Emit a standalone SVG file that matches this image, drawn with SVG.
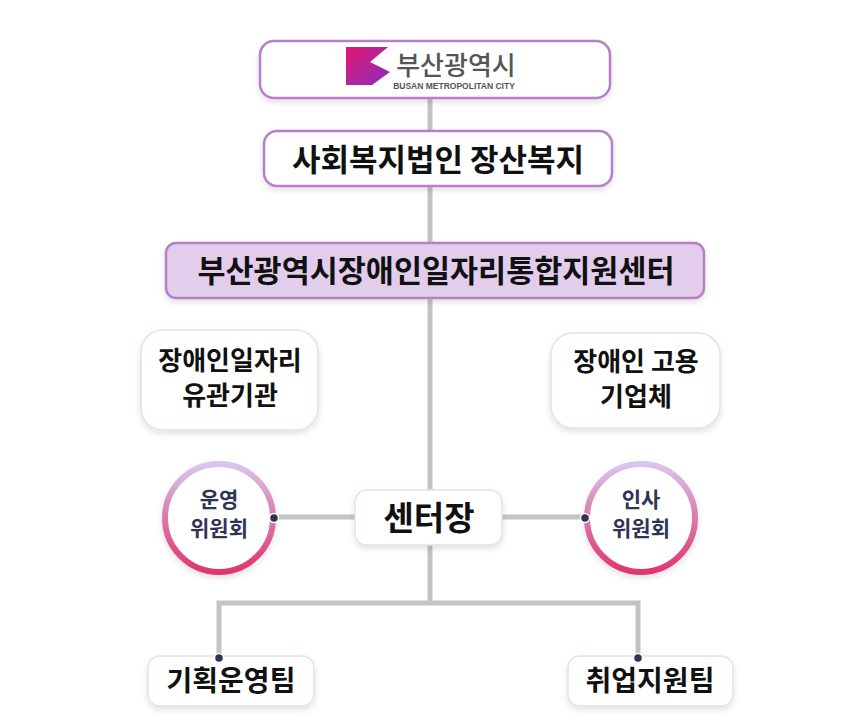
<svg xmlns="http://www.w3.org/2000/svg" width="860" height="726" viewBox="0 0 860 726">
<defs>
<linearGradient id="ring" x1="0" y1="0" x2="0" y2="1"><stop offset="0" stop-color="#d9c6ef"/><stop offset="0.5" stop-color="#d97aa9"/><stop offset="1" stop-color="#e0356f"/></linearGradient>
<linearGradient id="logo" x1="0" y1="0" x2="1" y2="1"><stop offset="0" stop-color="#e3166f"/><stop offset="1" stop-color="#8a2fc0"/></linearGradient>
<filter id="sh" x="-20%" y="-20%" width="140%" height="150%"><feDropShadow dx="0" dy="3" stdDeviation="3" flood-color="#000" flood-opacity="0.12"/></filter>
</defs>
<style>
.bx{fill:#fff;stroke:#b77fc6;stroke-width:2.5;filter:url(#sh)}
.sb{fill:#fff;stroke:#ecdcef;stroke-width:1.5;filter:url(#sh)}
.ln{stroke:#c4c4c4;stroke-width:5;fill:none}
.t{font-family:"Noto Sans CJK KR","Noto Sans",sans-serif;font-weight:700;fill:#111;text-anchor:middle}
.c{font-family:"Noto Sans CJK KR","Noto Sans",sans-serif;font-weight:700;fill:#2e3455;text-anchor:middle;font-size:21px}
.dot{fill:#2e3455;stroke:#fff;stroke-width:1.5}
</style>
<g id="connectors">
<line class="ln" x1="430" y1="98" x2="430" y2="603"/>
<line class="ln" x1="274" y1="517" x2="585" y2="517"/>
<polyline class="ln" points="219,658 219,603 638,603 638,658"/>
</g>
<g id="busan"><rect class="bx" x="260" y="41" width="350" height="57" rx="14"/>
<path d="M346 47 H388 L370 62 L390 72 L372 85 H346 Z" fill="url(#logo)"/>
<text class="t" x="456" y="75" font-size="26" style="font-weight:500;fill:#555">부산광역시</text>
<text class="t" x="454" y="89" font-size="8.5" style="font-family:'Liberation Sans',sans-serif;font-weight:700;fill:#555">BUSAN METROPOLITAN CITY</text></g>
<g id="jangsan"><rect class="bx" x="264" y="131" width="348" height="55" rx="13"/>
<text class="t" x="438" y="171" font-size="31">사회복지법인 장산복지</text></g>
<g id="center"><rect class="bx" x="166" y="243" width="538" height="55" rx="10" style="fill:#e3cdec"/>
<text class="t" x="436" y="282" font-size="30.5">부산광역시장애인일자리통합지원센터</text></g>
<g id="org"><rect class="sb" x="141" y="330" width="177" height="100" rx="22"/>
<text class="t" x="230" y="370" font-size="26">장애인일자리</text><text class="t" x="230" y="405" font-size="26">유관기관</text></g>
<g id="firm"><rect class="sb" x="551" y="333" width="169" height="95" rx="22"/>
<text class="t" x="636" y="371" font-size="26">장애인 고용</text><text class="t" x="636" y="406" font-size="26">기업체</text></g>
<g id="op"><circle cx="219" cy="518" r="54" fill="#fff" stroke="url(#ring)" stroke-width="6" filter="url(#sh)"/>
<text class="c" x="219" y="507">운영</text><text class="c" x="219" y="536">위원회</text><circle class="dot" cx="274" cy="518" r="4.5"/></g>
<g id="hr"><circle cx="641" cy="518" r="54" fill="#fff" stroke="url(#ring)" stroke-width="6" filter="url(#sh)"/>
<text class="c" x="641" y="507">인사</text><text class="c" x="641" y="536">위원회</text><circle class="dot" cx="585" cy="518" r="4.5"/></g>
<g id="head"><rect class="sb" x="355" y="490" width="147" height="55" rx="12"/>
<text class="t" x="429" y="530" font-size="33">센터장</text></g>
<g id="plan"><rect class="sb" x="148" y="656" width="166" height="50" rx="12"/>
<text class="t" x="231" y="691" font-size="28">기획운영팀</text><circle class="dot" cx="219" cy="658" r="4.5"/></g>
<g id="job"><rect class="sb" x="568" y="656" width="165" height="50" rx="12"/>
<text class="t" x="650" y="691" font-size="28">취업지원팀</text><circle class="dot" cx="638" cy="658" r="4.5"/></g>
</svg>
